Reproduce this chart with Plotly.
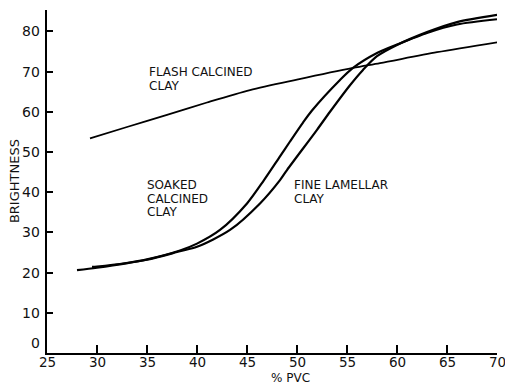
import plotly.graph_objects as go

# % PVC (x) and brightness (y)
flash_x = [29.3, 33, 37, 41, 45.3, 50, 55.6, 58.3, 64, 70.1]
flash_y = [53.4, 56.2, 59.2, 62.3, 65.4, 68.0, 70.9, 72.1, 74.8, 77.3]

soaked_x = [28.0, 30, 35, 38.3, 40, 42.3, 45, 46.7, 48.3, 49.3, 50.6, 51.5, 54.3, 55.6, 58, 60, 63, 66, 70]
soaked_y = [20.6, 21.2, 23.3, 25.5, 27.2, 30.6, 37.2, 43.0, 48.9, 52.6, 57.3, 60.3, 67.9, 70.9, 74.6, 76.7, 79.6, 81.7, 83.0]

fine_x = [29.5, 30, 35, 38.3, 40, 43.3, 46.3, 48.3, 49, 52, 53.3, 55.3, 56.6, 58, 60, 63, 66, 70]
fine_y = [21.4, 21.5, 23.2, 25.3, 26.4, 30.6, 37.2, 43.0, 45.5, 55.5, 60.0, 66.6, 70.4, 73.8, 76.6, 79.8, 82.3, 84.1]

x_ticks = [25, 30, 35, 40, 45, 50, 55, 60, 65, 70]
y_ticks = [0, 10, 20, 30, 40, 50, 60, 70, 80]

labels = [
    ("FLASH CALCINED", 35.0, 69.9),
    ("CLAY", 35.0, 66.4),
    ("SOAKED", 34.8, 41.8),
    ("CALCINED", 34.8, 38.4),
    ("CLAY", 34.8, 35.1),
    ("FINE LAMELLAR", 49.5, 41.8),
    ("CLAY", 49.5, 38.4),
]

FONT = "DejaVu Sans"
INK = "#111"
fig = go.Figure()
for xs, ys, w in [(flash_x, flash_y, 1.8), (soaked_x, soaked_y, 2.2), (fine_x, fine_y, 2.2)]:
    fig.add_trace(go.Scatter(x=xs, y=ys, mode="lines",
                             line=dict(color="black", width=w, shape="spline", smoothing=0.8),
                             showlegend=False, hoverinfo="skip"))

for txt, x, y in labels:
    fig.add_annotation(x=x, y=y, xref="x", yref="y", text=txt, showarrow=False,
                       xanchor="left", yanchor="middle",
                       font=dict(family=FONT, size=12, color=INK))

# x tick labels drawn as annotations so the last one ("70") survives at the edge
for v in x_ticks:
    fig.add_annotation(x=v, y=-0.027, xref="x", yref="paper", text=str(v), showarrow=False,
                       xanchor="center", yanchor="middle",
                       font=dict(family=FONT, size=13.5, color=INK))

# y tick labels; the "0" sits a little above the corner as in the reference
for v in y_ticks:
    fig.add_annotation(x=-0.012, y=v + (2.4 if v == 0 else 0), xref="paper", yref="y",
                       text=str(v), showarrow=False, xanchor="right", yanchor="middle",
                       font=dict(family=FONT, size=14, color=INK))

fig.add_annotation(x=49.3, y=-0.072, xref="x", yref="paper", text="% PVC", showarrow=False,
                   xanchor="center", yanchor="middle", font=dict(family=FONT, size=12, color=INK))
fig.add_annotation(x=-0.072, y=0.5, xref="paper", yref="paper", text="BRIGHTNESS", showarrow=False,
                   textangle=-90, xanchor="center", yanchor="middle",
                   font=dict(family=FONT, size=13, color=INK))

fig.update_layout(
    width=505, height=386,
    margin=dict(l=47, r=8, t=10, b=33),
    paper_bgcolor="white", plot_bgcolor="white",
    xaxis=dict(range=[25, 70], tickvals=x_ticks, showticklabels=False,
               showgrid=False, zeroline=False, showline=True, linecolor="black", linewidth=2,
               ticks="inside", ticklen=8, tickwidth=1.5, tickcolor="black"),
    yaxis=dict(range=[0, 85.3], tickvals=y_ticks, showticklabels=False,
               showgrid=False, zeroline=False, showline=True, linecolor="black", linewidth=2,
               ticks="inside", ticklen=6, tickwidth=1.5, tickcolor="black"),
)
fig.write_html("out.html")
